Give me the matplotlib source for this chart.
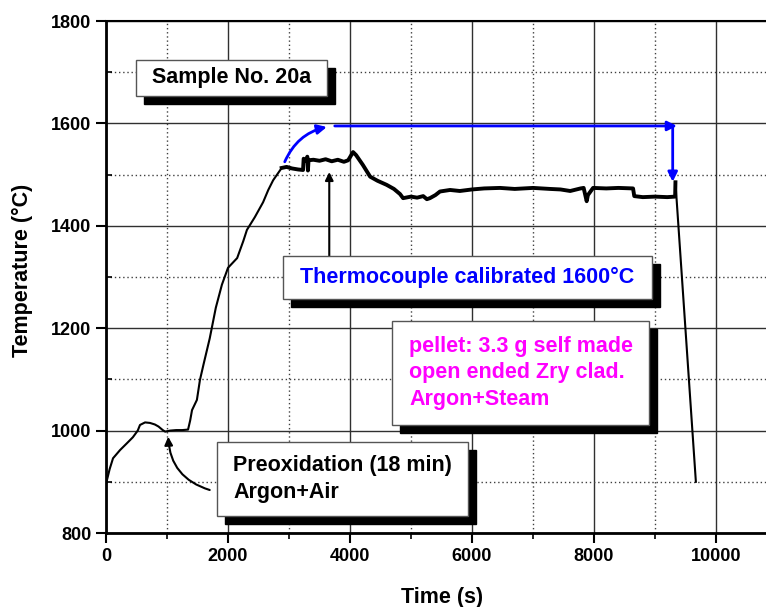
import numpy as np
import matplotlib
matplotlib.use("Agg")
import matplotlib.pyplot as plt
from matplotlib.patches import Rectangle
from matplotlib.ticker import MultipleLocator

plt.rcParams['font.family'] = ['Liberation Sans', 'DejaVu Sans']
plt.rcParams['font.weight'] = 'bold'

# temperature trace of sample 20a
time_s = [0, 60, 115, 230, 340, 440, 520, 557, 640, 720, 800, 860, 930, 970,
          1050, 1150, 1250, 1345, 1380, 1410, 1490, 1540, 1600, 1700, 1800,
          1900, 2000, 2150, 2250, 2310, 2440, 2575, 2660, 2740, 2880, 2960,
          3050, 3150, 3230, 3240, 3290, 3300, 3310, 3320, 3400, 3500, 3600,
          3700, 3800, 3900, 3970, 4050, 4100, 4210, 4330, 4450, 4600, 4720,
          4820, 4870, 5000, 5100, 5200, 5260, 5310, 5400, 5475, 5640, 5800,
          6000, 6200, 6460, 6700, 7000, 7280, 7450, 7610, 7780, 7830, 7880,
          7900, 7985, 8200, 8400, 8640, 8660, 8800, 9000, 9200, 9330, 9335,
          9670]
temp_c = [896, 925, 946, 962, 975, 987, 1000, 1011, 1016, 1015, 1012, 1008,
          1001, 998, 1000, 1001, 1001, 1002, 1020, 1040, 1060, 1099, 1130,
          1180, 1240, 1285, 1318, 1337, 1370, 1392, 1417, 1446, 1470, 1489,
          1513, 1515, 1512, 1510, 1509, 1531, 1527, 1535, 1508, 1528, 1529,
          1527, 1530, 1526, 1529, 1525, 1528, 1544, 1538, 1519, 1496, 1488,
          1480, 1472, 1462, 1454, 1457, 1455, 1458, 1452, 1454, 1460, 1467,
          1470, 1468, 1471, 1473, 1474, 1472, 1474, 1472, 1471, 1468, 1473,
          1474, 1448, 1460, 1474, 1473, 1474, 1473, 1458, 1456, 1457, 1456,
          1457, 1485, 900]

calib_temp = 1595
calib_start, calib_end = 3750, 9360
x_ticks = [0, 2000, 4000, 6000, 8000, 10000]

fig = plt.figure(figsize=(7.66, 6.07), dpi=100)
ax = fig.add_axes([0.1384, 0.1219, 0.9556, 0.8435])

t = np.array(time_s)
T = np.array(temp_c)
ax.plot(t, T, color='black', lw=1.5, zorder=3)
thick = (t >= 2880) & (t <= 9335)
ax.plot(t[thick], T[thick], color='black', lw=2.8, zorder=3)

ax.set_xlim(0, 12000)
ax.set_ylim(800, 1800)
ax.set_xticks(x_ticks)
ax.xaxis.set_minor_locator(MultipleLocator(1000))
ax.yaxis.set_major_locator(MultipleLocator(200))
ax.yaxis.set_minor_locator(MultipleLocator(100))
ax.grid(which='major', color='#303030', lw=1.0, ls='-')
ax.grid(which='minor', color='#404040', lw=1.0, ls=(0, (1, 2)))
ax.set_axisbelow(True)

ax.tick_params(which='major', direction='out', length=7, width=1.5,
               labelsize=13)
ax.tick_params(axis='x', which='minor', direction='out', length=4, width=1.2)
ax.tick_params(axis='y', which='minor', direction='in', length=4, width=1.2)
for lab in ax.get_xticklabels() + ax.get_yticklabels():
    lab.set_fontweight('bold')
ax.spines['left'].set_linewidth(2)
ax.spines['bottom'].set_linewidth(2)
ax.spines['top'].set_linewidth(1.5)
ax.spines['right'].set_visible(False)

fig.text(442 / 766, 1 - 597 / 607, 'Time (s)', fontsize=15.5, fontweight='bold',
         ha='center', va='center')
fig.text(22 / 766, 1 - 270 / 607, 'Temperature (°C)', fontsize=15.5,
         fontweight='bold', ha='center', va='center', rotation=90)

# blue calibration arrows
blue_arrow = dict(arrowstyle='-|>', color='blue', lw=2, mutation_scale=14,
                  shrinkA=0, shrinkB=0)
ax.annotate('', xy=(3620, 1593), xytext=(2930, 1525),
            arrowprops=dict(blue_arrow, connectionstyle='arc3,rad=-0.25'))
ax.annotate('', xy=(calib_end, calib_temp), xytext=(calib_start, calib_temp),
            arrowprops=blue_arrow)
ax.annotate('', xy=(9290, 1486), xytext=(9290, calib_temp),
            arrowprops=blue_arrow)

black_arrow = dict(arrowstyle='-|>', color='black', lw=1.5, mutation_scale=12,
                   shrinkA=0, shrinkB=0)
ax.annotate('', xy=(3660, 1505), xytext=(3660, 1339), arrowprops=black_arrow)
ax.annotate('', xy=(1020, 988), xytext=(1700, 884),
            arrowprops=dict(black_arrow, connectionstyle='arc3,rad=-0.35'))

# text boxes with drop shadow
dx, dy = 131, -15.6


def shadow_box(x0, x1, y0, y1):
    ax.add_patch(Rectangle((x0 + dx, y0 + dy), x1 - x0, y1 - y0,
                           facecolor='black', edgecolor='black', zorder=5))
    ax.add_patch(Rectangle((x0, y0), x1 - x0, y1 - y0, facecolor='white',
                           edgecolor='#555555', lw=1, zorder=6))


shadow_box(492, 3623, 1654, 1724)
ax.text(2057, 1689, 'Sample No. 20a', fontsize=15.5, fontweight='bold',
        ha='center', va='center', zorder=7)

shadow_box(2902, 8951, 1257, 1341)
ax.text(5926, 1299, 'Thermocouple calibrated 1600°C', fontsize=15.5,
        fontweight='bold', color='blue', ha='center', va='center', zorder=7)

shadow_box(4689, 8902, 1011, 1214)
ax.text(4967, 1113, 'pellet: 3.3 g self made\nopen ended Zry clad.\nArgon+Steam',
        fontsize=15.5, fontweight='bold', color='#ff00ff', ha='left',
        va='center', linespacing=1.35, zorder=7)

shadow_box(1820, 5934, 833, 978)
ax.text(2082, 906, 'Preoxidation (18 min)\nArgon+Air', fontsize=15.5,
        fontweight='bold', color='black', ha='left', va='center',
        linespacing=1.35, zorder=7)

fig.savefig('out.png', dpi=100)
